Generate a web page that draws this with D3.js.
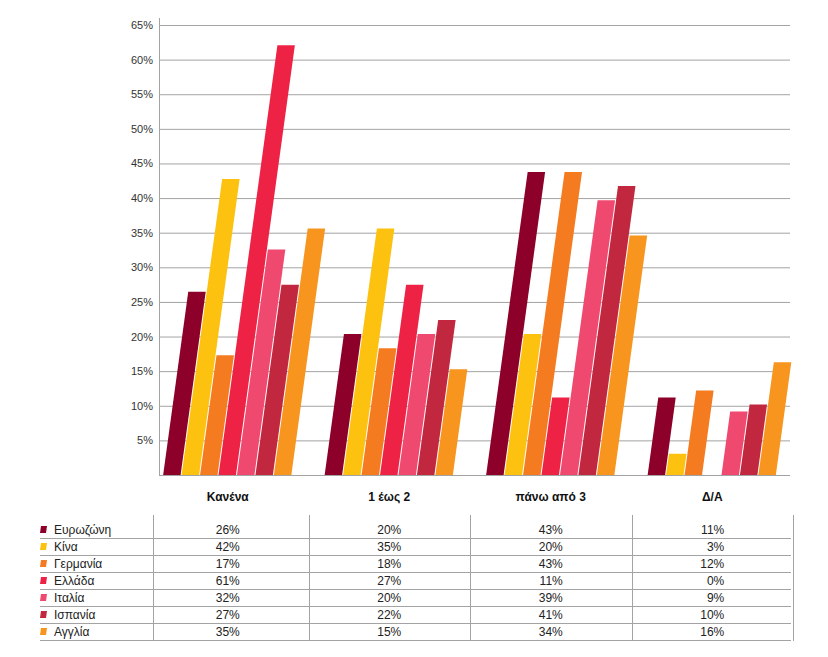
<!DOCTYPE html>
<html>
<head>
<meta charset="utf-8">
<script src="https://cdnjs.cloudflare.com/ajax/libs/d3/7.8.5/d3.min.js"></script>
<style>
  html, body { margin: 0; padding: 0; background: #fff; }
  svg { display: block; font-family: "Liberation Sans", Arial, sans-serif; }
</style>
</head>
<body>
<svg id="chart" width="828" height="657"></svg>
<script>
// ---- data ----
const categories = ["Κανένα", "1 έως 2", "πάνω από 3", "Δ/Α"];
const seriesNames = ["Ευρωζώνη", "Κίνα", "Γερμανία", "Ελλάδα", "Ιταλία", "Ισπανία", "Αγγλία"];
const seriesColors = ["#8c0029", "#fdc10f", "#f47b20", "#ee2245", "#f0496f", "#c1283f", "#f7951e"];
const eurozone = [26, 20, 43, 11];
const china    = [42, 35, 20, 3];
const germany  = [17, 18, 43, 12];
const greece   = [61, 27, 11, 0];
const italy    = [32, 20, 39, 9];
const spain    = [27, 22, 41, 10];
const england  = [35, 15, 34, 16];
const seriesValues = [eurozone, china, germany, greece, italy, spain, england];
const yTicks = [5, 10, 15, 20, 25, 30, 35, 40, 45, 50, 55, 60, 65];
const tickLabels = yTicks.map(d => d + "%");

// ---- layout ----
const svg = d3.select("#chart");
const plotLeft = 159, plotRight = 790, baseY = 475;
const slant = 0.137;
const gridColor = "#a3a3a3";

const x = d3.scaleBand().domain(categories).range([147, 793]).paddingInner(0.2).paddingOuter(0.1);
const xs = d3.scaleBand().domain(seriesNames).range([0, x.bandwidth()]);
const yGrid = d3.scaleLinear().domain([0, 65]).range([baseY, 25]);
const yBar = d3.scaleLinear().domain([0, 65]).range([baseY, 17]);

// gridlines + tick labels
const yAxis = d3.axisLeft(yGrid).tickValues(yTicks).tickSize(-(plotRight - plotLeft)).tickPadding(6)
  .tickFormat((d, i) => tickLabels[i]);
const gAxis = svg.append("g").attr("transform", `translate(${plotLeft},0)`).call(yAxis);
gAxis.select(".domain").remove();
gAxis.selectAll(".tick line").attr("stroke", gridColor).attr("stroke-width", 1);
gAxis.selectAll(".tick text").attr("fill", "#333").attr("font-size", 11)
  .attr("font-family", "Liberation Sans, Arial, sans-serif");

// axis line and baseline
svg.append("line").attr("x1", plotLeft + 0.5).attr("x2", plotLeft + 0.5)
  .attr("y1", 18).attr("y2", baseY).attr("stroke", gridColor);
svg.append("line").attr("x1", plotLeft).attr("x2", plotRight)
  .attr("y1", baseY + 0.5).attr("y2", baseY + 0.5).attr("stroke", gridColor);

// bars (sheared)
const barsG = svg.append("g");
seriesNames.forEach((name, si) => {
  categories.forEach((cat, ci) => {
    const v = seriesValues[si][ci];
    if (v <= 0) return;
    const x0 = x(cat) + xs(name);
    const w = xs.bandwidth() - 1;
    const yTop = yBar(v);
    const h = baseY - yTop;
    const off = slant * h;
    const pts = [[x0, baseY], [x0 + w, baseY], [x0 + w + off, yTop], [x0 + off, yTop]];
    barsG.append("polygon").attr("points", pts.map(p => p.join(",")).join(" "))
      .attr("fill", seriesColors[si]);
  });
});

// category labels
svg.append("g").selectAll("text").data(categories).join("text")
  .attr("x", d => x(d) + x.bandwidth() / 2).attr("y", 501)
  .attr("text-anchor", "middle").attr("font-size", 12).attr("font-weight", "bold")
  .attr("fill", "#111").text(d => d);

// data table
const rowTop = 521, rowH = 17, tableLeftLine = 40, tableRight = 791, firstColLine = 153;
const tbl = svg.append("g");
// horizontal lines
seriesNames.forEach((n, i) => {
  tbl.append("line").attr("x1", tableLeftLine).attr("x2", tableRight)
    .attr("y1", rowTop + rowH * (i + 1) + 0.5).attr("y2", rowTop + rowH * (i + 1) + 0.5)
    .attr("stroke", gridColor);
});
// vertical lines
const colLines = [firstColLine].concat(categories.map(c => x(c) + x.bandwidth() + x.step() * x.paddingInner() / 2));
colLines.forEach(cx => {
  tbl.append("line").attr("x1", Math.round(cx) + 0.5).attr("x2", Math.round(cx) + 0.5)
    .attr("y1", 515).attr("y2", rowTop + rowH * seriesNames.length + 1)
    .attr("stroke", gridColor);
});
// legend entries
seriesNames.forEach((n, i) => {
  const cy = rowTop + rowH * i + 8.5;
  const sx = 40;
  tbl.append("polygon")
    .attr("points", [[sx, cy + 3.5], [sx + 6, cy + 3.5], [sx + 7, cy - 3.5], [sx + 1, cy - 3.5]].map(p => p.join(",")).join(" "))
    .attr("fill", seriesColors[i]);
  tbl.append("text").attr("x", 54).attr("y", cy + 4)
    .attr("font-size", 12).attr("fill", "#222").text(n);
  categories.forEach((c, ci) => {
    tbl.append("text").attr("x", x(c) + x.bandwidth() / 2 + 12).attr("y", cy + 4)
      .attr("text-anchor", "end").attr("font-size", 12).attr("fill", "#222")
      .text(seriesValues[i][ci] + "%");
  });
});
</script>
</body>
</html>
